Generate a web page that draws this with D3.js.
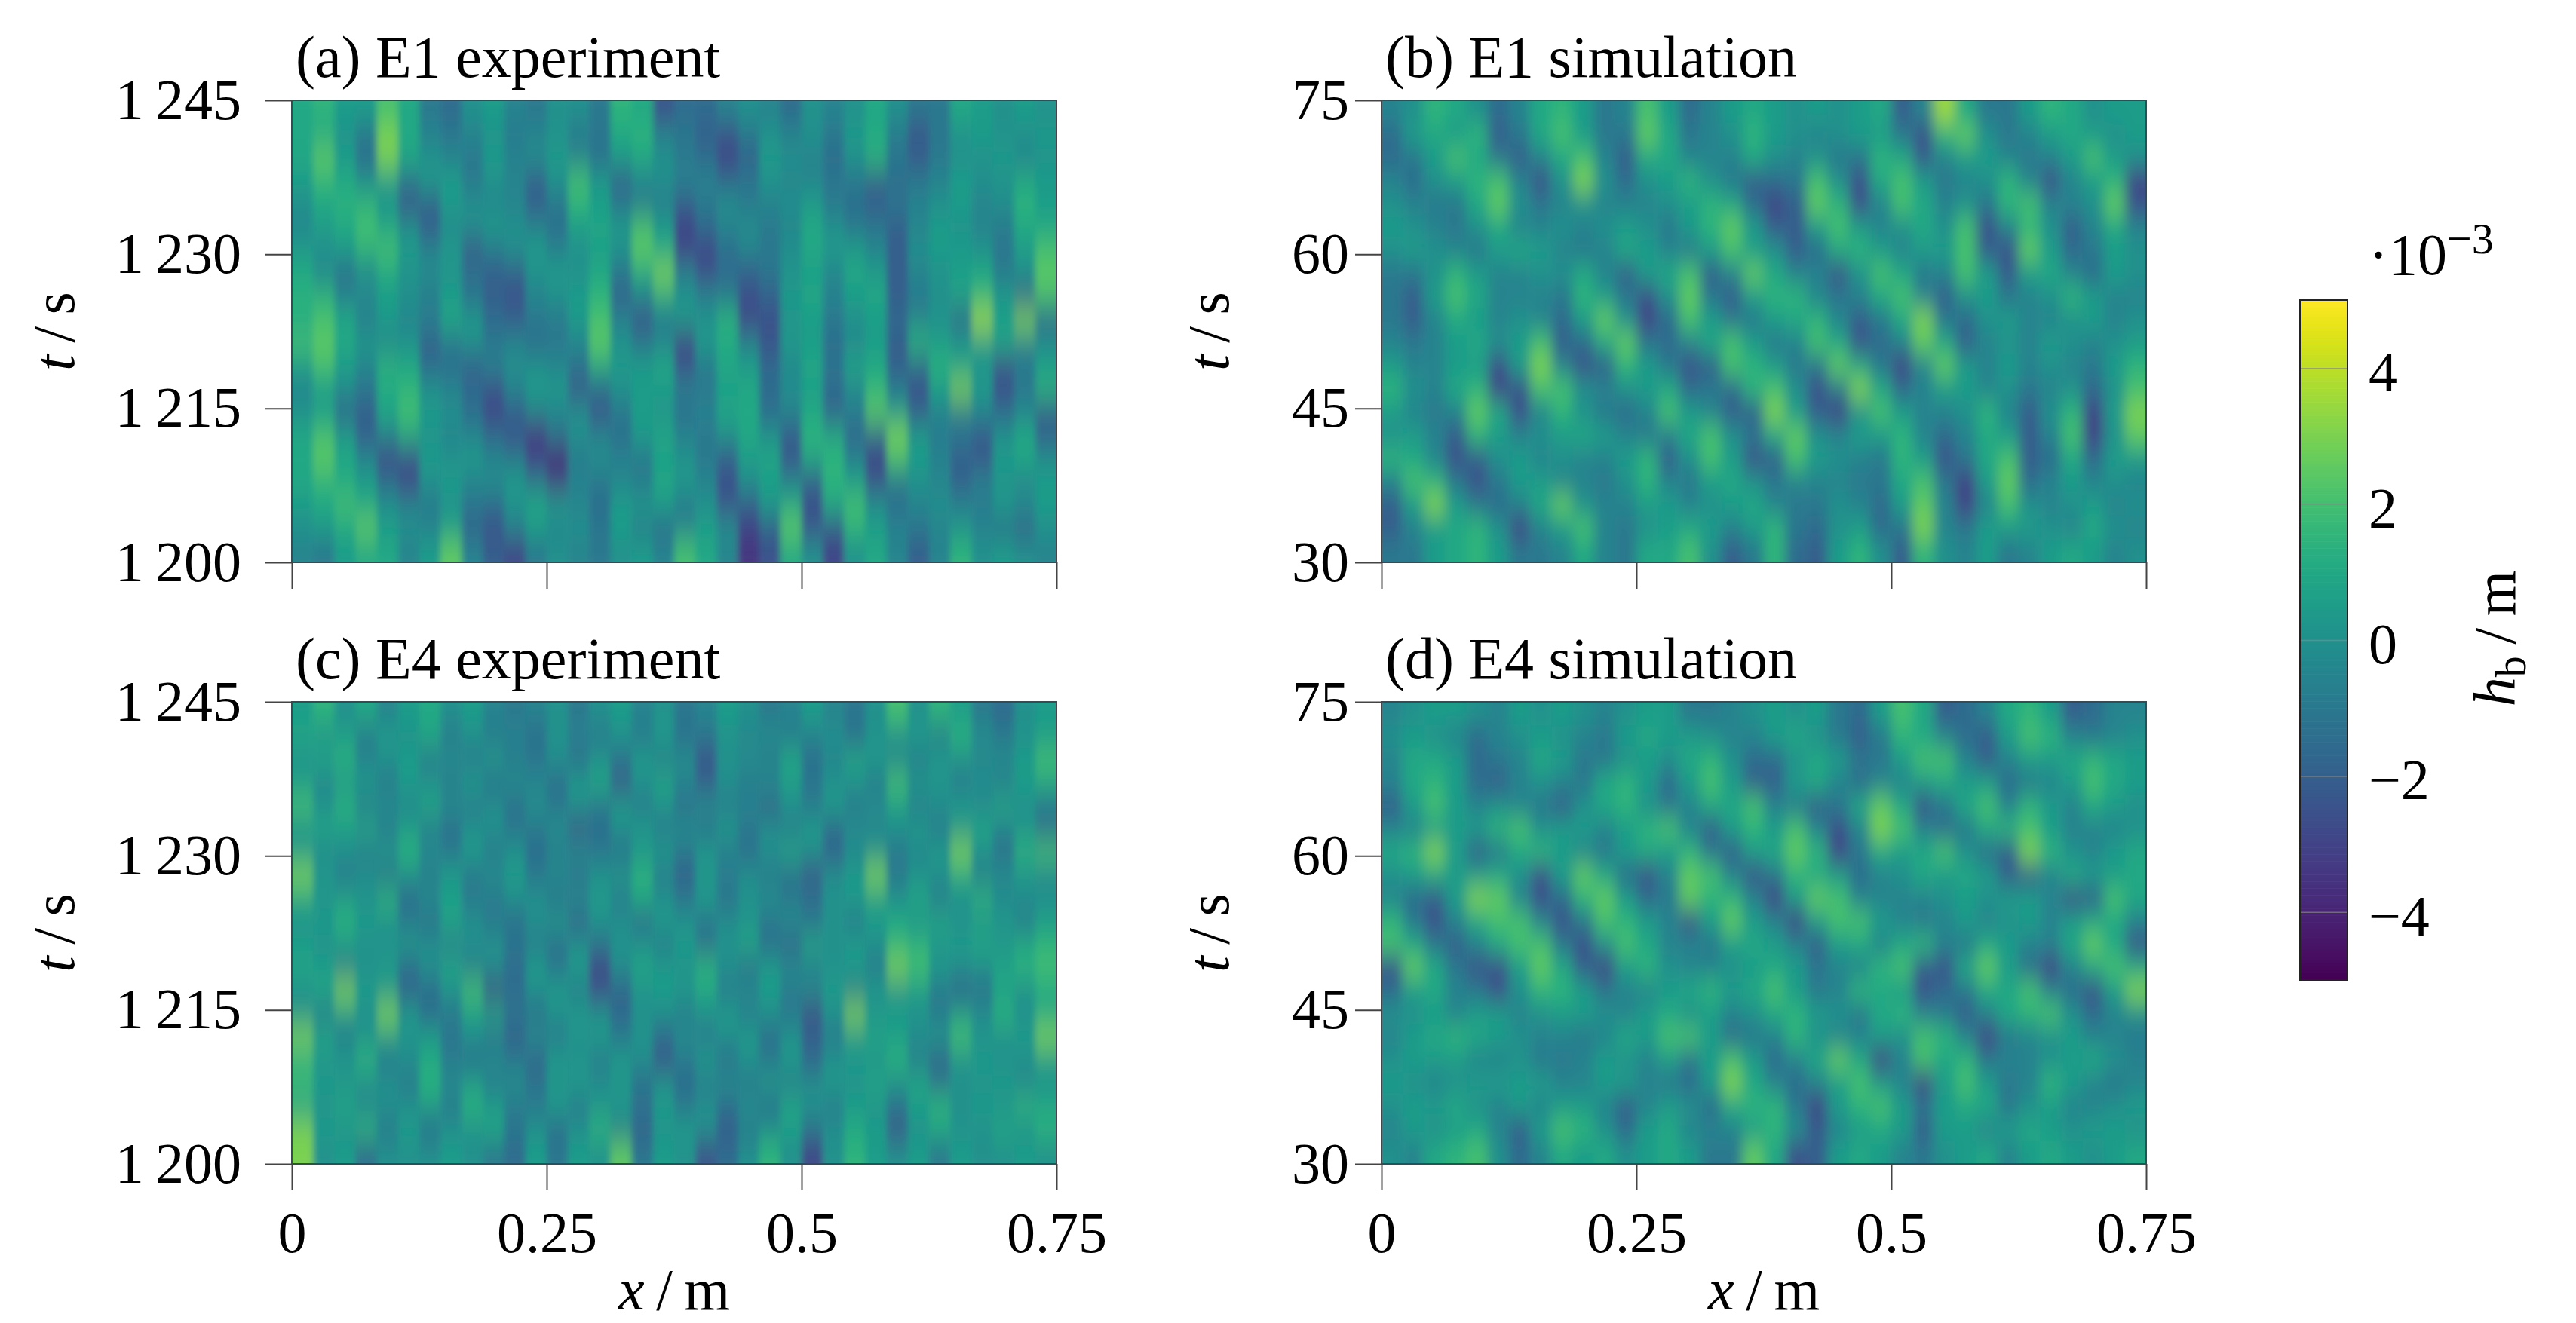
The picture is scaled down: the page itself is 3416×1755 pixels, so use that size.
<!DOCTYPE html>
<html>
<head>
<meta charset="utf-8">
<script src="https://cdn.jsdelivr.net/npm/d3@7"></script>
<style>
html, body { margin: 0; padding: 0; background: #fff; }
svg { display: block; }
text { font-family: "Liberation Serif", serif; fill: #000; }
</style>
</head>
<body>
<div id="chart"></div>
<script>
// h_b values in 1e-3 m. rows go top (late t) to bottom, columns go x = 0 to 0.75
var e1Experiment = [
[1,1.5,.5,.5,2,1,-1,-1.5,0,.5,-.5,-1,0,0,-1,1.5,1,-2.5,-1.5,-1.5,-.5,0,-.5,-1.5,0,-.5,0,1,0,-1,-1,1,.5,0,.5,0],
[1,1,0,-1,3,1,-.5,-1,-.5,0,-1,-.5,0,-1,-1,1,1.5,-.5,-1,-2,-2.5,-1,0,-.5,0,-1,.5,1,-1,-2.5,-1,0,.5,0,0,.5],
[1,2.5,.5,-1.5,3,1,0,-.5,-1,.5,-.5,0,.5,-.5,-1.5,.5,1,0,-1,-1.5,-3,-2,.5,0,-.5,-1.5,0,1.5,-1,-2,-1,0,0,.5,-.5,0],
[.5,1.5,1,0,.5,-1,.5,.5,-1,0,-.5,-2,0,2,.5,-2,-.5,0,-.5,-.5,-1.5,-1,0,-.5,-.5,-1,-1,-2,-1.5,-1,-.5,.5,0,0,1,.5],
[0,1,1.5,1.5,0,-2.5,-2,.5,0,-.5,-.5,-2,-1,1.5,.5,-1,-1,-1,-2,-1,0,-1,-.5,0,.5,-1,-1.5,-2,-1,-.5,0,.5,-.5,0,1.5,.5],
[-.5,.5,1,2,1,0,-2,-.5,0,.5,0,-.5,-1.5,.5,1,.5,2,.5,-3,-1.5,-.5,0,-1,-.5,1,0,-1,-1,-2,-.5,.5,0,-.5,-1,1,1],
[.5,0,.5,1.5,2,.5,-.5,.5,-2.5,-1,0,.5,-.5,0,.5,0,2.5,1,-3,-3,-1.5,-.5,-1,0,1,.5,.5,-.5,-2,0,.5,.5,0,-1,.5,2],
[1,-.5,-1.5,-.5,1,0,0,0,-1,-2,-2,0,.5,0,1,-1,1,3,-.5,-2.5,-1.5,-2,-1,0,.5,-.5,1,.5,-2,-.5,0,.5,1,-1,0,2.5],
[1.5,1.5,-.5,0,.5,0,-1,.5,-1.5,-2,-2.5,-.5,0,.5,1.5,-2,-.5,1,0,-.5,-1,-2.5,-2,.5,1,-.5,.5,1,-2,-1,0,1,1.5,.5,-2,2],
[1,2,1,-1,.5,-.5,-.5,1,.5,-1.5,-2,-1,-1,.5,2,-.5,-2.5,-1,.5,0,1.5,-3,-2.5,0,.5,-1,0,.5,-1.5,-.5,0,-2,3.5,.5,3,-2],
[2,2.5,1,.5,-.5,0,-2,-1,0,-1,-.5,-1.5,-1,-.5,2.5,0,-1,-.5,-3,.5,1,-.5,-2.5,.5,.5,-1.5,-.5,.5,-2,1.5,.5,.5,.5,1,-.5,0],
[.5,2,.5,-.5,1.5,1,-1.5,-1.5,-2,-.5,0,0,-.5,-1,1,.5,.5,1,-2.5,-1,1,.5,-1.5,-.5,1,-1,1,1,-2,-1.5,1.5,.5,0,-2.5,-1,.5],
[-.5,.5,0,-1,1,1.5,0,-.5,-1.5,-2.5,-.5,.5,.5,-2.5,-1.5,0,.5,.5,-.5,-1,.5,1,-1.5,0,.5,-1.5,-.5,1.5,-1,-2.5,.5,3,.5,-2.5,-1,1.5],
[0,.5,-2,-2,1,2,.5,0,-1.5,-3,-2,-.5,-.5,0,-2.5,-1,.5,0,-1.5,-.5,1,1,-1.5,-.5,1,-2,-.5,2.5,.5,-2,-.5,-1,-.5,-1.5,-.5,-2],
[1,2,.5,-2,-.5,1,0,-.5,-.5,-1.5,-2.5,-3.5,-1,0,-.5,-1.5,.5,1,-.5,-1,0,1,0,-2,1.5,1,-2,-1.5,3,.5,-1,-1,-2,0,1,-2],
[1,2.5,1,-.5,-3,-2.5,.5,0,.5,-.5,-1,-3,-4,-1,0,-.5,-1,.5,0,-1,-2,.5,1,-2.5,1,1.5,-.5,-3,2,.5,-.5,-2,-2.5,.5,1,0],
[1,1.5,1,.5,-1.5,-3,0,.5,-.5,0,.5,-1,-3,-.5,-1,-.5,-1,1,.5,-.5,-2.5,0,.5,-.5,-2,1.5,.5,-2.5,-1,0,-.5,-2,-.5,0,-.5,.5],
[.5,1,2,1,0,-.5,-1,0,-1,-1.5,0,1,.5,-.5,-1.5,.5,.5,.5,-1,0,-2.5,-2,.5,1,-2.5,1,2,0,-1.5,-.5,0,-.5,-1,.5,0,.5],
[0,.5,1,2.5,.5,0,-.5,.5,-2,-2.5,-.5,.5,-.5,0,-1,.5,-1,-1.5,-.5,.5,0,-3,-2,2.5,-2.5,-2,1.5,.5,-.5,-1,-.5,0,-.5,-1.5,-2,0],
[-.5,-1,.5,1,1,-.5,.5,2.5,-.5,-2,-3,-1,0,-.5,-1,0,.5,-.5,2,1,-.5,-3.5,-2.5,1,0,-3,0,1,-.5,-2,-.5,1.5,0,.5,0,-.5]
];
var e1Simulation = [
[-.5,0,1.5,1,0,-1.5,-.5,1,1.5,.5,-1,-.5,2,.5,-1.5,-.5,.5,1,.5,0,.5,0,.5,1,-2,-.5,3.5,1,-1,-1,.5,1.5,1,0,.5,.5],
[-1.5,.5,1,.5,1.5,-2,-1,1,2,.5,-1,-1,2.5,1,-1,-.5,0,1.5,.5,0,-.5,0,.5,.5,-1,-2.5,1.5,2.5,0,-1,-.5,.5,1,.5,0,.5],
[-1.5,-1,.5,2,1,-1,-2,-.5,1,2,-.5,-2,1,1,-.5,-.5,-.5,1,0,-.5,0,-1,-1,1.5,1,-2,-.5,.5,.5,-.5,-1,-.5,.5,2,.5,0],
[-.5,-1.5,0,.5,1.5,2,-.5,-2.5,0,3,0,-1.5,0,.5,1.5,0,-1,-2,-1.5,-1,2,0,-2.5,1,2,.5,-1,-.5,0,1.5,-.5,-2.5,-.5,.5,1.5,-3],
[0,-.5,-1,-1,1,2.5,0,-1,-.5,0,-.5,-.5,-.5,0,.5,1.5,1,-1.5,-3,-2,2.5,1.5,-2.5,-.5,2,1,-.5,0,-1,1.5,2,-.5,-.5,0,2.5,-2.5],
[.5,0,-.5,-1,0,1,-.5,-.5,0,-.5,0,.5,0,-1,.5,1.5,2.5,.5,-2,-2,.5,2,.5,-.5,0,1,0,2,-2.5,-.5,1.5,0,-2,-.5,1,-.5],
[0,.5,0,-.5,-1,.5,1,.5,-.5,-1,-.5,1,.5,-.5,-1,.5,2,.5,0,-2,-1.5,1,1.5,.5,-.5,.5,.5,2,-2,-2.5,2.5,.5,-1.5,-1,.5,0],
[-1,-1,0,1.5,.5,-.5,-.5,0,0,1,-.5,-2,.5,1,2,-2,-.5,2.5,1,-.5,-.5,-2.5,0,2,1,-1,-.5,2,.5,-2,.5,1,-.5,-1.5,.5,0],
[-1,-2,.5,2,1,-.5,-.5,-.5,-1,1.5,.5,-1,-2.5,0,2.5,-1,-2,.5,1.5,1.5,-.5,-1,-.5,1,2,-.5,-2,0,.5,-1,-.5,0,1.5,.5,-.5,-.5],
[-1,-2,-.5,1,.5,-.5,0,-.5,-1.5,.5,2.5,0,-3,-1.5,2,.5,-1,-1,.5,1,1.5,-.5,-2,-1,1,3,-1,-1.5,0,.5,-.5,-.5,0,.5,-.5,0],
[-.5,-1,-.5,.5,1,0,.5,2,-2,-1.5,1,2.5,-1,-1.5,-.5,1,2,.5,-1,-.5,2,1,-2.5,-1.5,-.5,2.5,1,-2,-.5,0,-.5,.5,0,-.5,0,.5],
[.5,-.5,-.5,.5,.5,-2.5,.5,3,-.5,-2.5,-2,1.5,.5,-1,-2.5,-2,2,1.5,.5,-1,-1,2.5,1,-1,-3,-.5,2.5,.5,-.5,.5,-.5,0,-.5,-1,.5,1.5],
[1.5,0,-.5,1,1.5,-3,-2.5,2,2,0,-.5,0,.5,1,-1.5,-1,-1.5,1.5,2,0,-2.5,-1,3,1,-1.5,-.5,.5,.5,-.5,0,-1,-.5,0,-1.5,0,2],
[.5,-.5,-1,-.5,2.5,1,-2.5,-.5,1.5,0,-1,-1.5,-.5,2,.5,-.5,-2,-2,3,.5,-2,-3,0,2,.5,-.5,-.5,0,1.5,-.5,-2,0,1.5,-3,.5,3],
[0,.5,-.5,-2,1.5,.5,-.5,0,.5,1,.5,-.5,-1,-.5,1,2,0,-1,1,2.5,0,-.5,.5,.5,1.5,-.5,-1.5,-.5,1,.5,-2,-.5,2,-3,0,2.5],
[1.5,1,-.5,-2.5,-2,0,.5,-.5,0,-.5,-.5,.5,1.5,-2,0,2,.5,-2.5,-2,2,.5,0,-.5,-1,1.5,.5,-2.5,-1,1,2,-2,-1.5,1,-1.5,.5,.5],
[-.5,2,1.5,-1,-2.5,-1,.5,.5,-.5,-.5,-1,0,1.5,-.5,-1,.5,1,0,-1,-.5,-.5,-.5,-1,-1,1,2,-1,-3,.5,2.5,-1.5,-.5,.5,-.5,0,-.5],
[-2,.5,3,.5,-1,-1.5,-.5,1,2.5,0,-.5,-.5,.5,.5,-.5,0,.5,1,-.5,-1,-1,0,-.5,-1.5,.5,2.5,-.5,-3,-.5,2,0,-.5,0,.5,-.5,0],
[-2,-.5,.5,1,1.5,0,-3,-.5,.5,2,-.5,-1,0,.5,1,.5,-.5,.5,1.5,-1,-1.5,0,.5,-1.5,-1,3,-.5,-1,.5,.5,.5,0,-.5,1,0,-.5],
[-1,-1,.5,1,1.5,.5,-1,-1,-.5,1,-.5,-1,1,1,2,0,-2,-1,1.5,-1.5,-2,.5,1.5,0,-2,1.5,0,-.5,.5,-1,-.5,.5,1,.5,-.5,0]
];
var e4Experiment = [
[.5,1.5,0,1,-.5,.5,1,0,.5,-.5,-1,-.5,0,-1,0,.5,-.5,0,-1,-.5,.5,0,-1,-.5,.5,-.5,-1,0,2,0,1.5,.5,-1,-1.5,0,.5],
[1,0,.5,-1,.5,0,1,-1,0,-1,-.5,-1.5,0,-.5,-1,0,-1,.5,-1.5,-1,0,-.5,0,-1,-.5,0,-1.5,0,0,.5,-1,1.5,0,-1,0,.5],
[0,1,1.5,-.5,0,.5,-1,0,-1,.5,-1,-1,0,-1.5,0,-1,.5,-1,0,-2.5,0,0,-1,1,-1.5,-.5,1,.5,-.5,-1,.5,0,-.5,0,.5,2],
[.5,-.5,0,.5,-1,.5,0,-1,.5,-1.5,0,-.5,-1.5,.5,1,-2.5,0,1,-.5,-2,0,-1,0,.5,-1,0,0,-1,2,.5,0,-1,0,-1,.5,1],
[2,0,1.5,-1,0,-.5,1,0,-1,0,-1.5,0,-1,0,-1,.5,-1,0,-1.5,0,-1,-.5,-2,0,-1,.5,-1,0,.5,-1,0,.5,-.5,1,0,-1],
[0,1,.5,1,-1,.5,-1,-1.5,0,0,-1,-1,0,-2.5,-1.5,0,.5,-1,0,-1.5,.5,-1,0,-1,.5,-1.5,0,-.5,0,.5,-1,0,1,-.5,0,-1.5],
[.5,-.5,0,-1,.5,1.5,0,-1,.5,-1,0,-1.5,-1,0,-1,-1.5,0,.5,-1,.5,-1,-1.5,0,1,0,-2,-.5,0,-1,-.5,.5,3,0,-1.5,1.5,2],
[3,.5,-1,0,-1.5,0,-1,.5,-1,0,.5,-1,0,-1.5,0,.5,1.5,-1,-2,0,-.5,0,-1,-1.5,-2.5,0,.5,3,-1,0,0,1,-1,0,0,-.5],
[1,0,.5,0,1.5,-1.5,0,.5,-1,-1,0,0,-1.5,0,.5,-1,1,0,-1,.5,-1.5,0,0,-1,-1,0,.5,.5,0,1,-1,0,1.5,-.5,0,0],
[0,.5,1.5,.5,0,-1,-1.5,1,0,-1,-1.5,0,.5,-2,0,0,-1.5,.5,0,-1,0,0,-1,0,-1.5,0,-1,.5,1,0,1,0,0,.5,-1,.5],
[.5,0,.5,0,0,.5,0,-1,0,0,-1,-1,-1.5,0,-1,0,0,-1,.5,-1.5,0,1,-1.5,-2,1,0,.5,0,1.5,1.5,0,.5,1,0,1,1.5],
[1,.5,-1,0,.5,-1.5,0,1,-1,0,-1.5,.5,-1,.5,-3,0,1,.5,0,1.5,0,-1.5,.5,0,-1,0,.5,-1,3,2,.5,0,0,1,1.5,2],
[0,1,3,.5,0,-2,-1.5,0,2,-3,-1.5,0,.5,-1,-2.5,-2,0,.5,.5,1,-1,0,.5,-1,0,.5,-1,.5,0,.5,-1,-2,-1.5,.5,0,1],
[0,-1,.5,0,3,.5,-1.5,-1,.5,1,-1,-1.5,0,.5,0,-1.5,0,0,-1,0,.5,-1,0,-1,-3,0,3,0,.5,0,-1,.5,0,1.5,0,1],
[3,1,-1,0,.5,0,.5,-1,0,-1.5,-2,0,-1,0,.5,-1,0,-1.5,0,-1,0,.5,-1.5,0,-1.5,-1,0,1,.5,0,.5,2,0,0,.5,3],
[1,0,.5,1.5,-1,0,1,-1,-1.5,0,-1,-2,.5,0,-1,.5,0,-2.5,-1,.5,-1.5,0,-1,.5,-2,0,.5,0,1.5,-1,-2,0,.5,0,0,.5],
[2,.5,0,0,0,-1,1.5,0,.5,-1,0,-1,0,.5,0,0,-1.5,0,-1.5,-1,0,-1,.5,-1,0,.5,0,1,0,1,-1,0,0,.5,-.5,0],
[.5,0,1,-.5,0,0,.5,-1,1.5,.5,-1,-1,.5,-1,0,.5,-1,.5,-1,0,-1.5,0,-1.5,1,0,-1,.5,0,-1,.5,1.5,0,.5,0,1.5,1],
[3,.5,0,1.5,-1,.5,-1.5,0,0,1,-1,0,-1.5,0,1.5,-1,-2,0,.5,0,-2,-1,0,.5,-1,0,1,.5,-2.5,0,1,0,0,1,0,1.5],
[3,0,.5,-1.5,0,0,0,.5,0,-1,-1.5,.5,-1,.5,0,2.5,-1,.5,0,-2.5,-1.5,0,1.5,0,-3,0,1.5,.5,0,.5,-1,.5,0,0,.5,0]
];
var e4Simulation = [
[-.5,0,.5,.5,0,-.5,.5,0,.5,0,-.5,0,.5,.5,-1,-1,-.5,0,.5,0,.5,-1,-1.5,.5,2,1,-2,-1.5,-.5,1,1.5,.5,-2,-1.5,-.5,-.5],
[0,.5,0,-.5,-1.5,-.5,0,.5,0,-.5,-1,.5,1,.5,.5,0,-.5,-.5,.5,1,0,-1,-2,-1,1.5,1,-.5,-1.5,-2,.5,2,1.5,-.5,-1,-.5,0],
[-.5,1,1,.5,-1.5,-1,-.5,1,.5,-1,-1,0,.5,0,1,1.5,0,-1.5,-1.5,0,1,.5,-1,-1,.5,2,2,-.5,-2,-.5,.5,.5,1,1.5,1,.5],
[-.5,1,1.5,.5,-1.5,-2,-.5,0,-.5,-1,1,1.5,.5,-1.5,.5,2,.5,-2,-2,.5,1,-.5,-1.5,-.5,-.5,.5,1,.5,.5,-1.5,-1,-.5,.5,2,1,.5],
[-2,.5,2,.5,-.5,0,-.5,-1,-2,0,1,1.5,0,-1,-.5,1,1,2,-.5,-1,-2,-1,1,2.5,1,-2.5,-1,1,2,-.5,1.5,.5,-.5,1,.5,0],
[-.5,-.5,.5,.5,.5,1.5,2,0,.5,.5,-.5,.5,1.5,2,-.5,-2,.5,1.5,.5,2,-.5,-2.5,-.5,3,2,-.5,-1.5,-1,1,1.5,2,.5,-.5,-.5,-.5,0],
[1,1.5,3,.5,-2,-1,1,1.5,.5,-.5,-1,.5,1,.5,1.5,-1,-2,.5,1,2.5,1.5,-3,-1,1,.5,1,2,0,-1.5,-2,3,1.5,0,-.5,.5,1],
[0,.5,1,.5,.5,1,0,-2.5,.5,2.5,1,-1.5,-2.5,-.5,2.5,2,-.5,-2.5,-1,1.5,1,.5,-1.5,-.5,0,1,.5,1,.5,-2,-2,-.5,1,.5,.5,1],
[-.5,-1.5,-2,.5,3,2.5,-.5,-2.5,-1.5,1.5,2.5,.5,-1.5,-1,2.5,1.5,1.5,-.5,-3,.5,2.5,2,-.5,-.5,-.5,-.5,0,.5,0,.5,.5,-.5,-2.5,-2,2,1],
[1.5,-1,-2.5,-.5,1,2,2,-.5,-2.5,-1,2,1.5,.5,-.5,-2.5,.5,2.5,.5,-.5,-3,.5,2,2,.5,-.5,-1,-.5,.5,-.5,0,.5,-.5,.5,1,1,-.5],
[2,1,-1,-2,-.5,1,2,2,-1,-2.5,0,2,1,-.5,-.5,-1,.5,1,.5,-.5,-2,.5,1,-.5,1,1.5,-.5,-1,1,.5,-.5,-.5,1,2.5,1,-2.5],
[-2.5,2.5,1,-1,-2.5,-2.5,.5,2.5,1,-2,-3,.5,1.5,0,-.5,-.5,0,.5,1,.5,-1,-.5,-.5,1.5,2,-2,-2.5,1,2.5,.5,-1.5,-3,-.5,1,2,1],
[-1.5,.5,1,-.5,-1,-2.5,0,1.5,1.5,.5,-1,-.5,-.5,.5,1,1.5,.5,1,2,.5,-1,-.5,1.5,1,.5,-2.5,-1.5,-1,1,1,2,-.5,-1.5,-2.5,.5,3],
[0,0,.5,-.5,.5,.5,-.5,0,.5,.5,0,-.5,.5,1,0,.5,-.5,0,1,1.5,.5,0,-1,1,1.5,-.5,-1,-2,-.5,1,1.5,2,0,-1.5,-.5,0],
[-.5,.5,1,1.5,1,.5,0,-.5,-.5,-1,-.5,1,.5,2,2,.5,-1.5,-1,-.5,1.5,0,-.5,-.5,.5,0,2,1.5,-.5,-3,-1,-.5,0,.5,-.5,-.5,-1],
[0,.5,.5,.5,-.5,-.5,0,-1,-1,-.5,.5,0,-.5,.5,-1,.5,2,.5,-1.5,-.5,1,2.5,1,-3,-.5,2,1,1.5,-1,-.5,-.5,0,.5,1,0,-.5],
[.5,0,-.5,0,.5,.5,.5,.5,-.5,-.5,.5,.5,-.5,-1,-1.5,.5,3,1,-.5,-1.5,-.5,.5,2,.5,-.5,-3,.5,2,.5,-1,-.5,1.5,.5,-.5,-1,-.5],
[0,.5,.5,1,0,-.5,.5,-.5,.5,.5,-.5,-2,-.5,.5,0,-1.5,1,1.5,1.5,-1,-3,.5,1.5,2,.5,-1,.5,1,1,-1,0,.5,-.5,-.5,0,.5],
[-.5,.5,0,.5,1,-.5,-2,.5,2,1.5,0,-1.5,.5,1,-.5,-.5,-.5,.5,1.5,0,-2,-.5,.5,1,.5,-2,.5,.5,-.5,.5,1,.5,0,.5,.5,0],
[0,-.5,1,1.5,2,0,-1.5,-.5,1,.5,1,0,.5,1,.5,-1,-1,2.5,1,-2.5,-2,.5,1,.5,-.5,-1,0,.5,1,-.5,.5,1,.5,0,.5,1]
];

var xTicks = [0, 0.25, 0.5, 0.75];
var xTickLabels = ["0", "0.25", "0.5", "0.75"];
var expTicks = [1200, 1215, 1230, 1245];
var expTickLabels = ["1\u2009200", "1\u2009215", "1\u2009230", "1\u2009245"];
var simTicks = [30, 45, 60, 75];
var barTicks = [-4, -2, 0, 2, 4];
var barTickLabels = ["\u22124", "\u22122", "0", "2", "4"];

var width = 3416, height = 1755;
var panelW = 1014, panelH = 613, tickLen = 35;
var fontSize = 76, titleSize = 78;

var svg = d3.select("#chart").append("svg")
    .attr("width", width)
    .attr("height", height);

var color = d3.scaleSequential(d3.interpolateViridis).domain([-5, 5]);

// soft blur so the cells read like the smooth shaded surface of the original
var defs = svg.append("defs");
function addBlur(id, dev){
  defs.append("filter").attr("id", id)
    .attr("x", "-5%").attr("y", "-5%")
    .attr("width", "110%").attr("height", "110%")
    .append("feGaussianBlur").attr("stdDeviation", dev);
}
addBlur("softExp", "4 22");
addBlur("softSim", "8 17");

function drawPanel(cfg){
  var g = svg.append("g").attr("transform", "translate(" + cfg.left + "," + cfg.top + ")");

  var x = d3.scaleLinear().domain([0, 0.75]).range([0, panelW]);
  var y = d3.scaleLinear().domain(cfg.yDomain).range([panelH, 0]);
  var col = d3.scaleBand().domain(d3.range(cfg.values[0].length)).range([0, panelW]);
  var row = d3.scaleBand().domain(d3.range(cfg.values.length)).range([0, panelH]);

  var clipId = "clip" + cfg.id;
  defs.append("clipPath").attr("id", clipId)
    .append("rect").attr("width", panelW).attr("height", panelH);

  var cells = [];
  cfg.values.forEach(function(r, i){
    r.forEach(function(v, j){ cells.push({ i: i, j: j, v: v }); });
  });

  // outer cells run past the frame so the blur does not fade at the edge
  var bleed = 40;
  var lastI = cfg.values.length - 1, lastJ = cfg.values[0].length - 1;
  g.append("g").attr("clip-path", "url(#" + clipId + ")")
    .append("g").attr("filter", "url(#" + cfg.blur + ")")
    .selectAll("rect").data(cells).join("rect")
    .attr("x", function(d){ return col(d.j) - (d.j == 0 ? bleed : 0); })
    .attr("y", function(d){ return row(d.i) - (d.i == 0 ? bleed : 0); })
    .attr("width", function(d){ return col.bandwidth() + 0.5 + (d.j == 0 || d.j == lastJ ? bleed : 0); })
    .attr("height", function(d){ return row.bandwidth() + 0.5 + (d.i == 0 || d.i == lastI ? bleed : 0); })
    .attr("fill", function(d){ return color(d.v); });

  g.append("rect")
    .attr("width", panelW).attr("height", panelH)
    .attr("fill", "none").attr("stroke", "#3a4a50").attr("stroke-width", 2);

  var xAxis = d3.axisBottom(x).tickValues(xTicks).tickSize(tickLen).tickPadding(28)
    .tickFormat(function(d, i){ return cfg.showX ? xTickLabels[i] : ""; });
  var yAxis = d3.axisLeft(y).tickValues(cfg.yTicks).tickSize(tickLen).tickPadding(cfg.yPad)
    .tickFormat(function(d, i){ return cfg.yLabels[i]; });

  var ax = g.append("g").attr("transform", "translate(0," + panelH + ")").call(xAxis);
  var ay = g.append("g").call(yAxis);
  [ax, ay].forEach(function(a){
    a.select(".domain").remove();
    a.selectAll("line").attr("stroke", "#444").attr("stroke-width", 2);
    a.selectAll("text").attr("font-size", fontSize).attr("font-family", "Liberation Serif").attr("fill", "#000");
  });

  g.append("text").attr("x", 5).attr("y", -31)
    .attr("font-size", titleSize).text(cfg.title);

  if(cfg.showX){
    var xl = g.append("text").attr("x", panelW / 2).attr("y", panelH + 193)
      .attr("text-anchor", "middle").attr("font-size", titleSize);
    xl.append("tspan").attr("font-style", "italic").text("x");
    xl.append("tspan").text("\u2009/\u2009m");
  }

  var yl = g.append("text")
    .attr("transform", "translate(" + cfg.yLabelX + "," + (panelH / 2) + ") rotate(-90)")
    .attr("text-anchor", "middle").attr("font-size", titleSize);
  yl.append("tspan").attr("font-style", "italic").text("t");
  yl.append("tspan").text("\u2009/\u2009s");
}

drawPanel({ id: "a", left: 387, top: 133, values: e1Experiment, blur: "softExp", yDomain: [1200, 1245], yTicks: expTicks, yLabels: expTickLabels, yPad: 32, yLabelX: -289, title: "(a) E1 experiment", showX: false });
drawPanel({ id: "b", left: 1832, top: 133, values: e1Simulation, blur: "softSim", yDomain: [30, 75], yTicks: simTicks, yLabels: simTicks, yPad: 8, yLabelX: -203, title: "(b) E1 simulation", showX: false });
drawPanel({ id: "c", left: 387, top: 931, values: e4Experiment, blur: "softExp", yDomain: [1200, 1245], yTicks: expTicks, yLabels: expTickLabels, yPad: 32, yLabelX: -289, title: "(c) E4 experiment", showX: true });
drawPanel({ id: "d", left: 1832, top: 931, values: e4Simulation, blur: "softSim", yDomain: [30, 75], yTicks: simTicks, yLabels: simTicks, yPad: 8, yLabelX: -203, title: "(d) E4 simulation", showX: true });

// colour bar
function drawColorbar(){
  var left = 3050, top = 398, barW = 63, barH = 902;
  var g = svg.append("g").attr("transform", "translate(" + left + "," + top + ")");
  var y = d3.scaleLinear().domain([-5, 5]).range([barH, 0]);
  var steps = d3.range(-5, 5, 0.05);

  g.selectAll("rect").data(steps).join("rect")
    .attr("x", 0).attr("width", barW)
    .attr("y", function(d){ return y(d + 0.05); })
    .attr("height", function(){ return y(0) - y(0.05) + 0.6; })
    .attr("fill", function(d){ return color(d + 0.025); });

  var axis = d3.axisRight(y).tickValues(barTicks).tickSize(0).tickPadding(0)
    .tickFormat(function(d, i){ return barTickLabels[i]; });
  var a = g.append("g").attr("transform", "translate(" + barW + ",0)").call(axis);
  a.select(".domain").remove();
  a.selectAll("line").attr("x1", -barW).attr("x2", 0).attr("stroke", "#888").attr("stroke-opacity", 0.7).attr("stroke-width", 1.5);
  a.selectAll("text").attr("x", 28).attr("dy", "0.4em").attr("font-size", fontSize).attr("font-family", "Liberation Serif").attr("fill", "#000");

  g.append("rect").attr("width", barW).attr("height", barH)
    .attr("fill", "none").attr("stroke", "#222").attr("stroke-width", 2);

  var e = svg.append("text").attr("x", left + 91).attr("y", 364).attr("font-size", titleSize);
  e.append("tspan").text("\u00b710");
  e.append("tspan").attr("dy", -28).attr("font-size", 58).text("\u22123");

  var l = svg.append("text")
    .attr("transform", "translate(3335,847) rotate(-90)")
    .attr("text-anchor", "middle").attr("font-size", titleSize);
  l.append("tspan").attr("font-style", "italic").text("h");
  l.append("tspan").attr("dy", 14).attr("font-size", 56).text("b");
  l.append("tspan").attr("dy", -14).text("\u2009/\u2009m");
}
drawColorbar();
</script>
</body>
</html>
